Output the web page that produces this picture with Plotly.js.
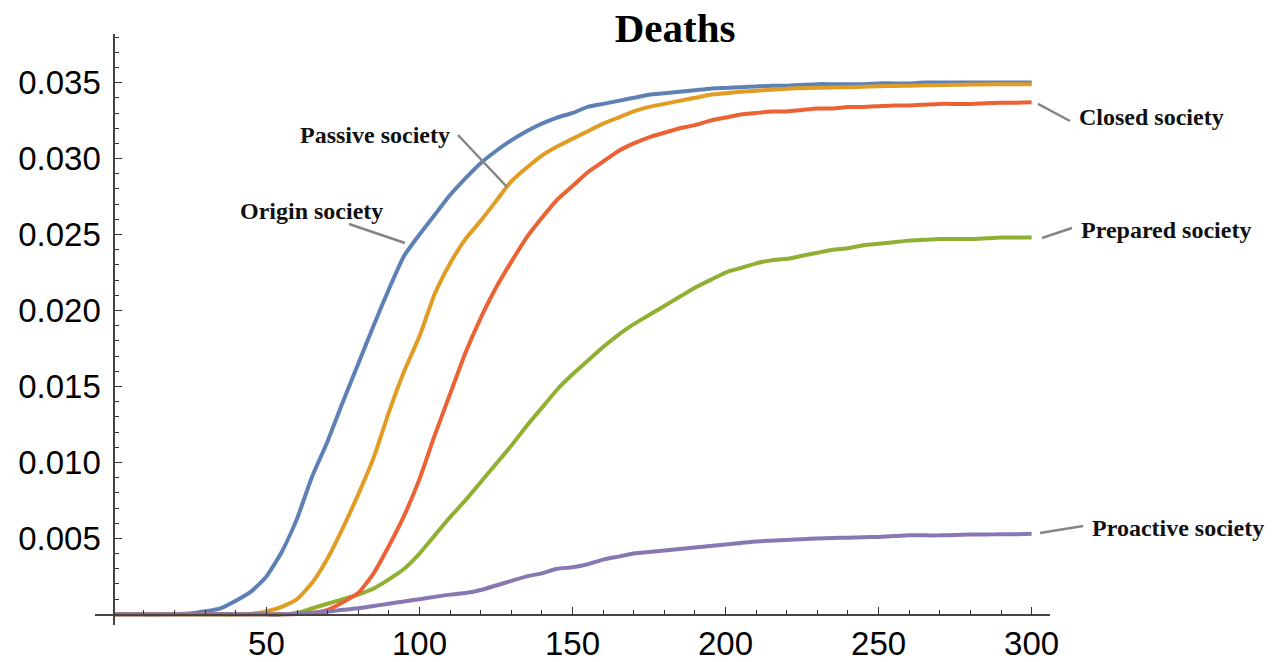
<!DOCTYPE html>
<html>
<head>
<meta charset="utf-8">
<script src="https://cdn.plot.ly/plotly-3.0.1.min.js"></script>
<style>
html,body{margin:0;padding:0;background:#fff;}
#chart{width:1272px;height:662px;}
</style>
</head>
<body>
<div id="chart"></div>
<script>
// Day index (x values)
const days = [0,5,10,15,20,25,30,35,40,45,50,55,60,65,70,75,80,85,90,95,100,105,110,115,120,125,130,135,140,145,150,155,160,165,170,175,180,185,190,195,200,205,210,215,220,225,230,235,240,245,250,255,260,265,270,275,280,285,290,295,300];

// Series values
const originSociety = [0,0,0,0,0.00002,0.00005,0.0002,0.0004,0.0009,0.0015,
  0.0025,0.0041,0.0063,0.0091,0.0114,0.0140,0.0165,0.0190,0.0214,0.0236,
  0.0250,0.0263,0.0276,0.0287,0.0297,0.0305,0.0312,0.0318,0.0323,0.0327,
  0.0330,0.0334,0.0336,0.0338,0.0340,0.0342,0.0343,0.0344,0.0345,0.0346,
  0.03465,0.0347,0.03475,0.0348,0.0348,0.03485,0.0349,0.0349,0.0349,0.0349,
  0.03495,0.03495,0.03495,0.035,0.035,0.035,0.035,0.035,0.035,0.035,
  0.035];

const passiveSociety = [0,0,0,0,0,0,0,0,0,0.00003,
  0.0002,0.0005,0.0010,0.0021,0.0037,0.0057,0.0079,0.0103,0.0133,0.0160,
  0.0183,0.0211,0.0231,0.0247,0.0259,0.0272,0.0285,0.0294,0.0302,0.0308,
  0.0313,0.0318,0.0323,0.0327,0.0331,0.0334,0.0336,0.0338,0.0340,0.0342,
  0.0343,0.0344,0.03447,0.03453,0.0346,0.03463,0.03466,0.03468,0.0347,0.03473,
  0.03476,0.03478,0.0348,0.03482,0.03484,0.03486,0.03487,0.03488,0.03489,0.0349,
  0.0349];

const preparedSociety = [0,0,0,0,0,0,0,0,0,0,
  0,0,0.0001,0.0004,0.0007,0.0010,0.0013,0.0017,0.0023,0.0030,
  0.0040,0.0052,0.0064,0.0075,0.0087,0.0099,0.0111,0.0124,0.0136,0.0148,
  0.0158,0.0167,0.0176,0.0184,0.0191,0.0197,0.0203,0.0209,0.0215,0.0220,
  0.0225,0.0228,0.0231,0.0233,0.0234,0.0236,0.0238,0.0240,0.0241,0.0243,
  0.0244,0.0245,0.0246,0.02465,0.0247,0.0247,0.0247,0.02475,0.0248,0.0248,
  0.0248];

const closedSociety = [0,0,0,0,0,0,0,0,0,0,
  0,0,0.00002,0.0001,0.0003,0.0008,0.0014,0.0027,0.0045,0.0065,
  0.0089,0.0118,0.0145,0.0172,0.0195,0.0215,0.0232,0.0248,0.0261,0.0273,
  0.0282,0.0291,0.0298,0.0305,0.0310,0.0314,0.0317,0.0320,0.0322,0.0325,
  0.0327,0.0329,0.0330,0.0331,0.0331,0.0332,0.0333,0.0333,0.0334,0.0334,
  0.03345,0.0335,0.0335,0.03355,0.0336,0.0336,0.0336,0.03365,0.03367,0.03368,
  0.0337];

const proactiveSociety = [0,0,0,0,0,0,0,0,0,0,
  0,0,0.00005,0.0001,0.00017,0.0003,0.0004,0.00055,0.0007,0.00085,
  0.001,0.00115,0.0013,0.0014,0.0016,0.0019,0.0022,0.0025,0.0027,0.0030,
  0.0031,0.0033,0.0036,0.0038,0.0040,0.0041,0.0042,0.0043,0.0044,0.0045,
  0.0046,0.0047,0.0048,0.00485,0.0049,0.00495,0.0050,0.00503,0.00505,0.00508,
  0.0051,0.00515,0.0052,0.0052,0.0052,0.00523,0.00525,0.00526,0.00527,0.00528,
  0.0053];

const seriesNames = ['Origin society','Passive society','Prepared society','Closed society','Proactive society'];
const seriesData = [originSociety, passiveSociety, preparedSociety, closedSociety, proactiveSociety];
const seriesColors = ['#5E81B5','#E19C24','#8FB032','#EB6235','#8778B3'];

const xTicks = [50,100,150,200,250,300];
const yTicks = [0.005,0.010,0.015,0.020,0.025,0.030,0.035];
const yTickText = ['0.005','0.010','0.015','0.020','0.025','0.030','0.035'];

const traces = seriesData.map((vals, i) => ({
  type: 'scatter',
  mode: 'lines',
  name: seriesNames[i],
  x: days,
  y: vals,
  line: {color: seriesColors[i], width: 4, shape: 'spline', smoothing: 0.5},
  hoverinfo: 'skip'
}));

const labelFont = {family: 'Liberation Serif, Times New Roman, serif', size: 24, color: '#111'};
const leaderLine = {color: '#858585', width: 2.5};

const annoText = [
  {text: 'Origin society', x: 0.2267, y: 0.7005},
  {text: 'Passive society', x: 0.2932, y: 0.8291},
  {text: 'Closed society', x: 1.1058, y: 0.8596},
  {text: 'Prepared society', x: 1.1215, y: 0.6684},
  {text: 'Proactive society', x: 1.134, y: 0.1641}
];
const leaders = [
  [0.2660, 0.6785, 0.3246, 0.6464],
  [0.3801, 0.8291, 0.4314, 0.7411],
  [0.9874, 0.8816, 1.0209, 0.8528],
  [0.9916, 0.6548, 1.0230, 0.6717],
  [0.9895, 0.1557, 1.0346, 0.1675]
];

const layout = {
  width: 1272,
  height: 662,
  paper_bgcolor: '#fff',
  plot_bgcolor: '#fff',
  showlegend: false,
  margin: {l: 95, r: 222, t: 34, b: 37, pad: 0},
  title: {
    text: '<b>Deaths</b>',
    font: {family: 'Liberation Serif, Times New Roman, serif', size: 41, color: '#000'},
    x: 0.5307, xref: 'container', xanchor: 'center',
    y: 0.958, yref: 'container', yanchor: 'middle'
  },
  xaxis: {
    range: [-6, 306],
    anchor: 'free',
    position: 0.018,
    showline: true, linecolor: '#444', linewidth: 1.3,
    ticks: 'inside', ticklen: 7, tickwidth: 1.3, tickcolor: '#333',
    tickmode: 'array', tickvals: xTicks,
    tickfont: {family: 'Liberation Sans, Arial, sans-serif', size: 33, color: '#000'},
    minor: {tickmode: 'linear', tick0: 0, dtick: 10, ticks: 'inside', ticklen: 4, tickwidth: 1, tickcolor: '#333', showgrid: false},
    showgrid: false, zeroline: false, automargin: false, fixedrange: true
  },
  yaxis: {
    range: [-0.0007, 0.0382],
    anchor: 'free',
    position: 0.01923,
    showline: true, linecolor: '#444', linewidth: 1.3,
    ticks: 'inside', ticklen: 7, tickwidth: 1.3, tickcolor: '#333',
    tickmode: 'array', tickvals: yTicks, ticktext: yTickText,
    ticklabelstandoff: 6,
    tickfont: {family: 'Liberation Sans, Arial, sans-serif', size: 33, color: '#000'},
    minor: {tickmode: 'linear', tick0: 0, dtick: 0.001, ticks: 'inside', ticklen: 4, tickwidth: 1, tickcolor: '#333', showgrid: false},
    showgrid: false, zeroline: false, automargin: false, fixedrange: true
  },
  annotations: annoText.map(a => ({
    text: '<b>' + a.text + '</b>', x: a.x, y: a.y, xref: 'paper', yref: 'paper',
    xanchor: 'center', yanchor: 'middle', showarrow: false, font: labelFont
  })),
  shapes: leaders.map(l => ({
    type: 'line', xref: 'paper', yref: 'paper',
    x0: l[0], y0: l[1], x1: l[2], y1: l[3], line: leaderLine
  }))
};

Plotly.newPlot('chart', traces, layout, {displayModeBar: false, staticPlot: true});
</script>
</body>
</html>
